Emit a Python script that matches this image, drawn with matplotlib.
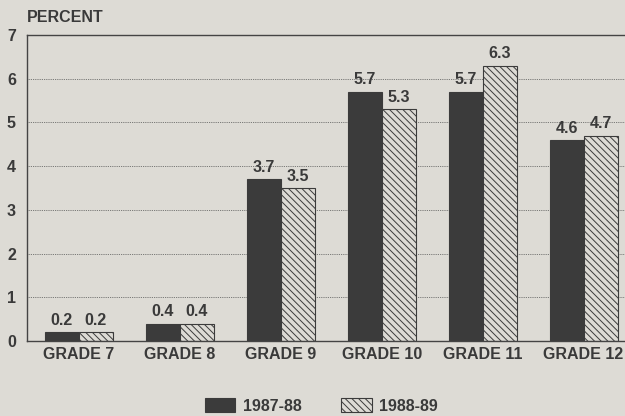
import matplotlib.pyplot as plt
import numpy as np

grades = ['GRADE 7', 'GRADE 8', 'GRADE 9', 'GRADE 10', 'GRADE 11', 'GRADE 12']
y1987 = [0.2, 0.4, 3.7, 5.7, 5.7, 4.6]
y1988 = [0.2, 0.4, 3.5, 5.3, 6.3, 4.7]
series_names = ['1987-88', '1988-89']

bg = '#dddbd5'
dark = '#3b3b3b'
txt = '#3a3a3a'
fs = 11.5

plt.rcParams['font.family'] = ['Liberation Sans', 'DejaVu Sans']
plt.rcParams['hatch.linewidth'] = 0.7
plt.rcParams['hatch.color'] = dark

fig = plt.figure(figsize=(6.25, 4.16), dpi=100, facecolor=bg)
ax = fig.add_axes([0.0432, 0.180, 0.9568, 0.736], facecolor=bg)

x = np.arange(len(grades))
w = 0.337
b1 = ax.bar(x - w / 2, y1987, w, color=dark, edgecolor=dark, linewidth=0.8, label=series_names[0])
b2 = ax.bar(x + w / 2, y1988, w, color=bg, edgecolor=dark, linewidth=0.8,
            hatch='\\' * 5, label=series_names[1])

for bars, vals in ((b1, y1987), (b2, y1988)):
    for r, v in zip(bars, vals):
        ax.text(r.get_x() + r.get_width() / 2, v + 0.1, f'{v:.1f}', ha='center', va='bottom',
                fontsize=fs, fontweight='bold', color=txt)

ax.set_xlim(-0.515, 5.41)
ax.set_ylim(0, 7)
ax.set_yticks(range(8))
ax.set_xticks(x)
ax.set_xticklabels(grades)
ax.yaxis.grid(True, linestyle=(0, (1, 1.2)), color='#555555', linewidth=0.6)
ax.set_axisbelow(True)
ax.spines['right'].set_visible(False)
for s in ['left', 'top', 'bottom']:
    ax.spines[s].set_color('#444444')
    ax.spines[s].set_linewidth(1.0)
ax.tick_params(axis='x', length=0, pad=4, labelsize=fs, labelcolor=txt)
ax.tick_params(axis='y', length=0, pad=8, labelsize=fs, labelcolor=txt)
for lab in ax.get_xticklabels() + ax.get_yticklabels():
    lab.set_fontweight('bold')

fig.text(27 / 625, 1 - 18 / 416, 'PERCENT', fontsize=fs, fontweight='bold', color=txt,
         va='center', ha='left')

leg = fig.legend(handles=[b1, b2], loc='center', ncol=2, frameon=False,
                 bbox_to_anchor=(0.514, 10 / 416), fontsize=fs, handlelength=1.9,
                 handleheight=0.9, columnspacing=2.5, handletextpad=0.45)
for t in leg.get_texts():
    t.set_fontweight('bold')
    t.set_color(txt)

fig.savefig('out.png', dpi=100, facecolor=bg)
